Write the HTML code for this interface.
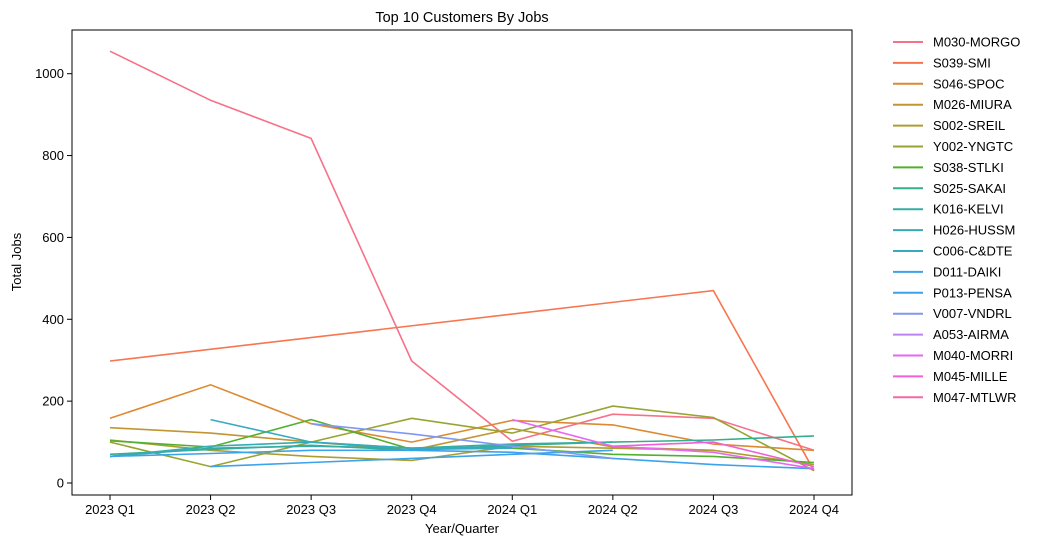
<!DOCTYPE html>
<html><head><meta charset="utf-8"><style>
body{margin:0;background:#fff;}
svg text{font-family:"Liberation Sans","DejaVu Sans",sans-serif;fill:#000;}
</style></head><body>
<svg id="chart" width="1046" height="545" xmlns="http://www.w3.org/2000/svg">
<text x="462" y="22" font-size="14.5" text-anchor="middle">Top 10 Customers By Jobs</text>
<g id="plot"></g>
<rect x="72" y="30" width="780" height="465" fill="none" stroke="#000" stroke-width="1"/>
<text x="462" y="533" font-size="13" text-anchor="middle">Year/Quarter</text>
<text transform="translate(21,262) rotate(-90)" font-size="13" text-anchor="middle">Total Jobs</text>
<g id="legend"></g>
</svg>
<script>
const categories=["2023 Q1","2023 Q2","2023 Q3","2023 Q4","2024 Q1","2024 Q2","2024 Q3","2024 Q4"];
const yTicks=[0,200,400,600,800,1000];
const names=["M030-MORGO","S039-SMI","S046-SPOC","M026-MIURA","S002-SREIL","Y002-YNGTC","S038-STLKI","S025-SAKAI","K016-KELVI","H026-HUSSM","C006-C&DTE","D011-DAIKI","P013-PENSA","V007-VNDRL","A053-AIRMA","M040-MORRI","M045-MILLE","M047-MTLWR"];
const colors=["#f77189","#f7754f","#dc8932","#c39532","#ae9d31","#97a431","#50b131","#34ae91","#36ada4","#37abb4","#38aabf","#3ba3ec","#3ba3ec","#8197f4","#bb83f4","#e866f4","#f45fd3","#f668a4"];
const s0=[1055,935,842,298,102,168,158,80];
const s1=[298,null,null,null,null,null,470,30];
const s2=[158,240,145,100,153,142,95,80];
const s3=[135,122,100,80,133,88,80,null];
const s4=[105,80,65,55,90,85,80,45];
const s5=[100,40,100,158,122,188,160,30];
const s6=[103,88,155,82,85,70,65,50];
const s7=[70,82,92,80,92,100,105,115];
const s8=[65,85,90,85,95,100,null,null];
const s9=[65,90,100,85,88,null,null,null];
const s10=[null,155,100,85,85,null,null,null];
const s11=[65,72,80,80,75,60,45,35];
const s12=[null,40,50,60,70,80,null,null];
const s13=[null,null,145,120,90,60,null,null];
const s14=[null,null,null,120,null,null,null,null];
const s15=[null,null,null,null,155,90,75,35];
const s16=[null,null,null,null,null,90,100,40];
const s17=[null,null,null,null,null,null,null,null];
const series=[s0,s1,s2,s3,s4,s5,s6,s7,s8,s9,s10,s11,s12,s13,s14,s15,s16,s17];
const NS="http://www.w3.org/2000/svg";
function xs(i){return 110+i*100.57;}
function ys(v){return 483-v*0.4093;}
const plot=document.getElementById('plot');
const svg=document.getElementById('chart');
yTicks.forEach(t=>{
 const l=document.createElementNS(NS,'line');
 l.setAttribute('x1',72);l.setAttribute('x2',67);l.setAttribute('y1',ys(t));l.setAttribute('y2',ys(t));l.setAttribute('stroke','#000');
 
 
 svg.appendChild(l);
 const tx=document.createElementNS(NS,'text');
 tx.setAttribute('x',64);tx.setAttribute('y',ys(t)+4.5);tx.setAttribute('font-size','13');tx.setAttribute('text-anchor','end');tx.textContent=t;
 
 
 svg.appendChild(tx);
});
categories.forEach((c,i)=>{
 const l=document.createElementNS(NS,'line');
 l.setAttribute('x1',xs(i));l.setAttribute('x2',xs(i));l.setAttribute('y1',495);l.setAttribute('y2',500);l.setAttribute('stroke','#000');
 
 
 svg.appendChild(l);
 const tx=document.createElementNS(NS,'text');
 tx.setAttribute('x',xs(i));tx.setAttribute('y',514);tx.setAttribute('font-size','13');tx.setAttribute('text-anchor','middle');tx.textContent=c;
 
 
 svg.appendChild(tx);
});
series.forEach((s,k)=>{
 const pts=[];
 s.forEach((v,i)=>{if(v!==null)pts.push(xs(i).toFixed(1)+','+ys(v).toFixed(1));});
 if(pts.length<2)return;
 const p=document.createElementNS(NS,'polyline');
 p.setAttribute('points',pts.join(' '));p.setAttribute('fill','none');p.setAttribute('stroke',colors[k]);p.setAttribute('stroke-width','1.6');
 
 
 plot.appendChild(p);
});
const lg=document.getElementById('legend');
names.forEach((n,k)=>{
 const y=42+k*20.9;
 const g=document.createElementNS(NS,'g');
 
 
 const l=document.createElementNS(NS,'line');
 l.setAttribute('x1',893);l.setAttribute('x2',923);l.setAttribute('y1',y);l.setAttribute('y2',y);l.setAttribute('stroke',colors[k]);l.setAttribute('stroke-width','2');
 g.appendChild(l);
 const t=document.createElementNS(NS,'text');
 t.setAttribute('x',933);t.setAttribute('y',y+4.5);t.setAttribute('font-size','13');t.textContent=n;
 g.appendChild(t);
 lg.appendChild(g);
});
</script>
</body></html>
